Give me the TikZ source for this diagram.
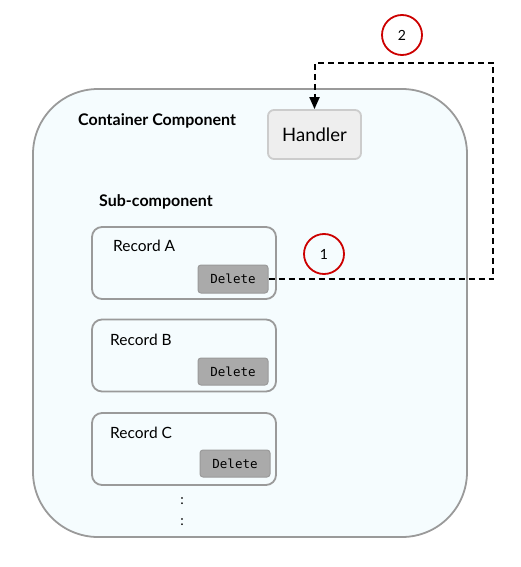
\documentclass[tikz,border=0pt]{standalone}
\usepackage{fontspec}
\setmainfont{Lato}
\setmonofont{DejaVu Sans Mono}
\usetikzlibrary{arrows.meta,positioning}

\definecolor{panelfill}{HTML}{F5FCFE}
\definecolor{panelline}{HTML}{9A9A9A}
\definecolor{handlerfill}{HTML}{EEEEEE}
\definecolor{handlerline}{HTML}{CCCCCC}
\definecolor{buttonfill}{HTML}{AAAAAA}
\definecolor{markred}{HTML}{CC0000}

\begin{document}
\begin{tikzpicture}[x=1pt,y=-1pt]
\tikzset{
  panel/.style={rectangle,draw=panelline,fill=panelfill,line width=1.8pt,inner sep=0pt},
  recordbox/.style={panel,rounded corners=10pt,minimum width=184pt,minimum height=72pt},
  handlerbox/.style={rectangle,rounded corners=6pt,draw=handlerline,fill=handlerfill,line width=1.8pt,
    minimum width=93pt,minimum height=49pt,font=\fontsize{18.5}{21}\selectfont},
  deletebtn/.style={rectangle,rounded corners=3pt,draw=panelline,fill=buttonfill,line width=1pt,
    minimum width=70pt,minimum height=28pt,font=\ttfamily\fontsize{12.5}{14}\selectfont},
  title/.style={anchor=west,inner sep=0pt,font=\bfseries\fontsize{16}{18}\selectfont},
  recordlabel/.style={anchor=west,inner sep=0pt,font=\fontsize{15.5}{18}\selectfont},
  stepmark/.style={circle,draw=markred,line width=1.8pt,minimum size=40pt,inner sep=0pt,
    font=\fontsize{14}{16}\selectfont},
  callflow/.style={draw=black,line width=2pt,dash pattern=on 6pt off 4pt,
    -{Triangle[length=12pt,width=10pt]}}
}
\useasboundingbox (0,0) rectangle (520,567);
% container
\node[panel,rounded corners=65pt,minimum width=434pt,minimum height=448pt] (n_container) at (250,313) {};
\node[title] (n_containerlabel) at (78,121) {Container Component};
\node[handlerbox] (n_handler) at (314.5,134.5) {Handler};
\node[title] (n_sublabel) at (99,202) {Sub-component};
% records
\node[recordbox] (n_recA) at (184,263) {};
\node[recordbox] (n_recB) at (184,355.5) {};
\node[recordbox] (n_recC) at (184,449) {};
\node[recordlabel] (n_labelA) at (113,246) {Record A};
\node[recordlabel] (n_labelB) at (110,340) {Record B};
\node[recordlabel] (n_labelC) at (110,433) {Record C};
\node[deletebtn] (n_delA) at (233,279) {Delete};
\node[deletebtn,minimum height=27pt] (n_delB) at (233,371.5) {Delete};
\node[deletebtn,minimum height=27pt] (n_delC) at (235,463.5) {Delete};
\node[inner sep=0pt,align=center,font=\fontsize{14}{21}\selectfont] (n_more) at (182,512) {:\\:};
% steps
\node[stepmark] (n_step1) at (324,254) {1};
\node[stepmark] (n_step2) at (402,35) {2};
\coordinate (c_turn) at (493,63);
\draw[callflow] (n_delA.east) -| (c_turn) -| (n_handler.north);
\end{tikzpicture}
\end{document}
